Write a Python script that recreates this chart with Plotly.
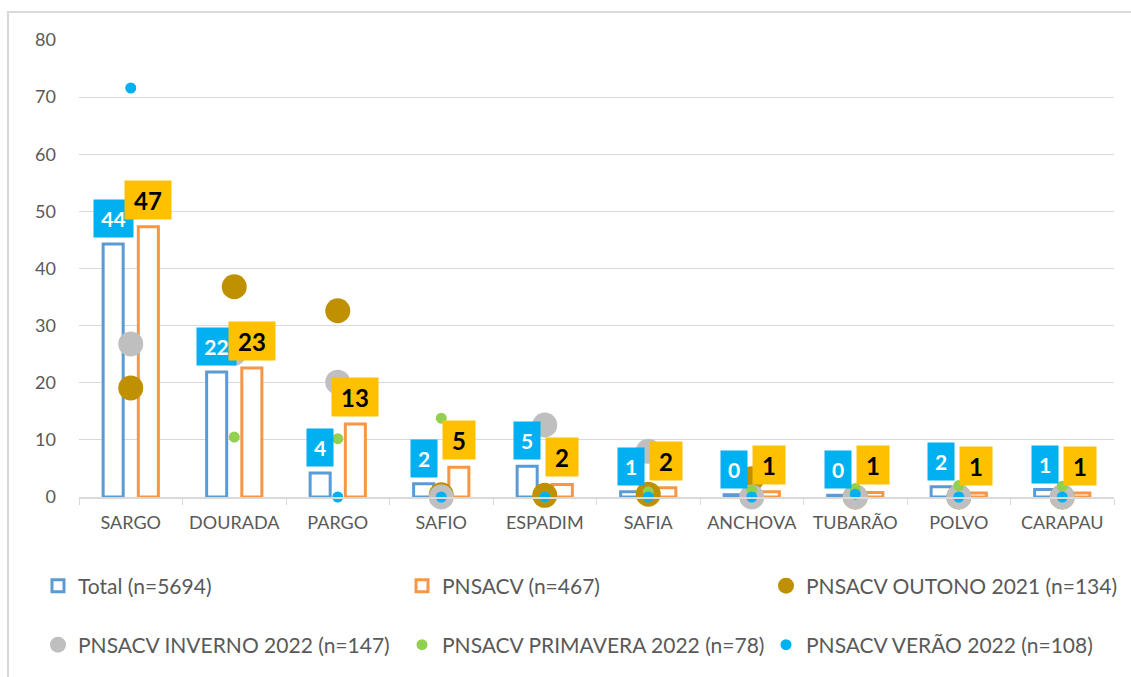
import plotly.graph_objects as go

# Species caught, share (%) by sampling group
categories = ["SARGO", "DOURADA", "PARGO", "SAFIO", "ESPADIM",
              "SAFIA", "ANCHOVA", "TUBARÃO", "POLVO", "CARAPAU"]

total = [44.3, 21.9, 4.2, 2.3, 5.4, 0.9, 0.4, 0.3, 1.8, 1.3]
pnsacv = [47.3, 22.6, 12.8, 5.2, 2.2, 1.6, 0.9, 0.8, 0.7, 0.7]
outono_2021 = [19.1, 36.8, 32.6, 0.4, 0.3, 0.5, 3.2, 0.0, 0.0, 0.0]
inverno_2022 = [26.8, 25.2, 20.1, 0.0, 12.6, 8.0, 0.0, 0.0, 0.0, 0.0]
primavera_2022 = [50.0, 10.5, 10.2, 13.8, 0.0, 0.9, 1.2, 1.5, 2.0, 1.9]
verao_2022 = [71.6, 26.0, 0.0, 0.0, 0.0, 0.0, 0.0, 0.5, 0.0, 0.0]

y_ticks = [0, 10, 20, 30, 40, 50, 60, 70, 80]

FONT = "Lato"
GREY_TXT = "#595959"
GRID = "#D9D9D9"

W, H = 1131, 677
M_L, M_R, M_T, M_B = 79, 17, 40, 180
PW = W - M_L - M_R
PH = H - M_T - M_B


def px_x(p):
    return (p - M_L) / PW


def px_y(p):
    return (H - M_B - p) / PH


fig = go.Figure()

fig.add_trace(go.Bar(
    name="Total (n=5694)", x=categories, y=total,
    marker=dict(color="white", line=dict(color="#5B9BD5", width=3)),
    legend="legend",
))
fig.add_trace(go.Bar(
    name="PNSACV (n=467)", x=categories, y=pnsacv,
    marker=dict(color="white", line=dict(color="#F79646", width=3)),
    legend="legend",
))

points = [
    ("PNSACV OUTONO 2021 (n=134)", outono_2021, "#BF9000", 25, "legend"),
    ("PNSACV INVERNO 2022 (n=147)", inverno_2022, "#BFBFBF", 25, "legend2"),
    ("PNSACV PRIMAVERA 2022 (n=78)", primavera_2022, "#92D050", 11, "legend2"),
    ("PNSACV VERÃO 2022 (n=108)", verao_2022, "#00B0F0", 11, "legend2"),
]
for name, vals, col, size, leg in points:
    fig.add_trace(go.Scatter(
        name=name, x=categories, y=vals, mode="markers",
        marker=dict(color=col, size=size, line=dict(width=0)),
        legend=leg, cliponaxis=False,
    ))

# Value callouts above the two bar series
BAR_OFF = 17.5
for cat, v in zip(categories, total):
    txt = f"{v:.0f}"
    fig.add_annotation(
        x=cat, y=v, xref="x", yref="y", text=txt, showarrow=False,
        xshift=-BAR_OFF, yshift=6, yanchor="bottom",
        width=26 if len(txt) == 1 else 39, height=37, borderpad=0,
        bgcolor="#00B0F0", font=dict(family=FONT, size=21, color="white",
                                     weight="bold"),
    )
for cat, v in zip(categories, pnsacv):
    txt = f"{v:.0f}"
    fig.add_annotation(
        x=cat, y=v, xref="x", yref="y", text=txt, showarrow=False,
        xshift=BAR_OFF, yshift=7, yanchor="bottom",
        width=32 if len(txt) == 1 else 46, height=38, borderpad=0,
        bgcolor="#FFC000", font=dict(family=FONT, size=24, color="black",
                                     weight="bold"),
    )

# Outer chart frame
fig.add_shape(type="rect", xref="paper", yref="paper",
              x0=px_x(8), x1=px_x(1140), y0=px_y(690), y1=px_y(12),
              line=dict(color=GRID, width=2), fillcolor="rgba(0,0,0,0)",
              layer="below")

legend_common = dict(
    orientation="h", xanchor="left", yanchor="middle",
    font=dict(family=FONT, size=21, color=GREY_TXT),
    entrywidth=319, entrywidthmode="pixels",
    bgcolor="rgba(0,0,0,0)", itemsizing="trace", itemwidth=30,
    traceorder="normal",
)

fig.update_layout(
    width=W, height=H,
    margin=dict(l=M_L, r=M_R, t=M_T, b=M_B, autoexpand=False),
    paper_bgcolor="white", plot_bgcolor="white",
    font=dict(family=FONT, color=GREY_TXT),
    barmode="group", bargap=0.32, bargroupgap=0.43,
    legend=dict(x=px_x(38), y=px_y(586), **legend_common),
    legend2=dict(x=px_x(38), y=px_y(645), **legend_common),
    xaxis=dict(
        type="category", range=[-0.5, len(categories) - 0.5],
        showline=True, linecolor=GRID, linewidth=1.5,
        ticks="outside", tickson="boundaries", tickcolor=GRID, ticklen=6,
        tickangle=0, ticklabelstandoff=9,
        tickfont=dict(family=FONT, size=18, color=GREY_TXT),
        showgrid=False, automargin=False,
    ),
    yaxis=dict(
        range=[0, 80], tickvals=y_ticks, showgrid=True, gridcolor=GRID,
        gridwidth=1.3, zeroline=False, showline=False,
        tickfont=dict(family=FONT, size=18, color=GREY_TXT),
        ticklabelstandoff=22, automargin=False,
    ),
)

fig.write_html("out.html")
